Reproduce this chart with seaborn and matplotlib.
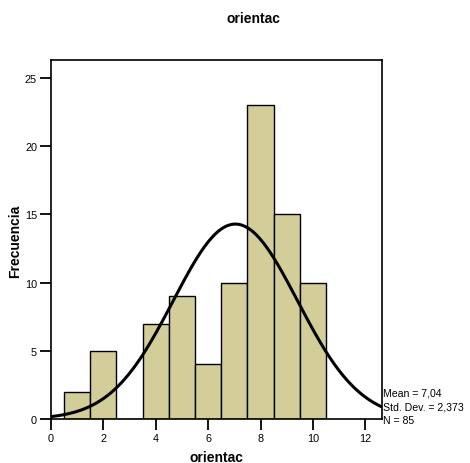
import numpy as np
import pandas as pd
import matplotlib
matplotlib.use("Agg")
import matplotlib.pyplot as plt
import seaborn as sns

# Histogram of "orientac": bin centres and frequencies
bin_centers = [1, 2, 3, 4, 5, 6, 7, 8, 9, 10]
frequencies = [2, 5, 0, 7, 9, 4, 10, 23, 15, 10]
x_ticks = [0, 2, 4, 6, 8, 10, 12]
y_ticks = [0, 5, 10, 15, 20, 25]

# Summary statistics shown beside the plot
mean_val = 7.04
std_val = 2.373
n_val = 85

sns.set_theme(style="white")
plt.rcParams["font.family"] = ["Liberation Sans", "DejaVu Sans"]
plt.rcParams["text.color"] = "black"
plt.rcParams["axes.labelcolor"] = "black"

df = pd.DataFrame({"orientac": bin_centers, "count": frequencies})

fig = plt.figure(figsize=(4.70, 4.64), dpi=100)
W, H = 470, 464
ax = fig.add_axes([51 / W, 1 - 420 / H, (381.5 - 51) / W, (420 - 60.7) / H])

sns.histplot(data=df, x="orientac", weights="count", binwidth=1, binrange=(0.5, 10.5),
             color="#D3CE99", alpha=1.0, edgecolor="black", linewidth=1.0, ax=ax)

# Normal curve scaled to the histogram (bin width 1)
xmax = 12.62
xs = np.linspace(0, xmax, 300)
ys = n_val * 1.0 / (std_val * np.sqrt(2 * np.pi)) * np.exp(-0.5 * ((xs - mean_val) / std_val) ** 2)
sns.lineplot(x=xs, y=ys, color="black", linewidth=2.2, ax=ax)

ax.set_xlim(0, xmax)
ax.set_ylim(0, 26.34)
ax.set_xticks(x_ticks)
ax.set_yticks(y_ticks)
ax.tick_params(axis="both", which="major", direction="out", length=8, width=1.3,
               labelsize=7.8, colors="black", pad=2, bottom=True, left=True)
for s in ax.spines.values():
    s.set_color("black")
    s.set_linewidth(1.2)

ax.set_xlabel("")
ax.set_ylabel("")
fig.text(216 / W, 1 - 458 / H, "orientac", ha="center", va="center",
         fontsize=10, fontweight="bold")
fig.text(15 / W, 1 - 241 / H, "Frecuencia", ha="center", va="center",
         rotation=90, fontsize=10, fontweight="bold")

fig.text(253 / W, 1 - 19 / H, "orientac", ha="center", va="center",
         fontsize=10, fontweight="bold")

stats = ["Mean = " + f"{mean_val:.2f}".replace(".", ","),
         "Std. Dev. = " + f"{std_val:.3f}".replace(".", ","),
         f"N = {n_val}"]
for i, t in enumerate(stats):
    fig.text(383 / W, 1 - (394 + 13.5 * i) / H, t, ha="left", va="center", fontsize=7.6)

fig.savefig("out.png", dpi=100)
